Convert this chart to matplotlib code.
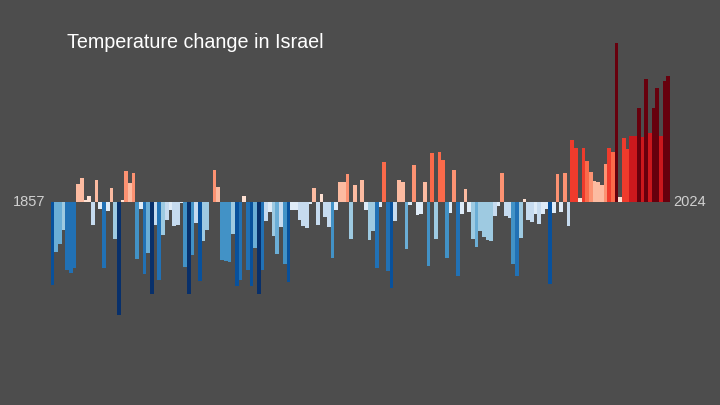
import numpy as np
import matplotlib.pyplot as plt
from matplotlib.colors import ListedColormap, Normalize

# Annual temperature anomaly for Israel, 1857-2024 (degC)
years = np.arange(1857, 2025)
anomaly = [
    -0.83, -0.50, -0.42, -0.28, -0.68, -0.71, -0.66, 0.18, 0.24, 0.02,
    0.06, -0.23, 0.22, -0.07, -0.66, -0.09, 0.14, -0.37, -1.13, 0.02,
    0.31, 0.19, 0.29, -0.57, -0.07, -0.72, -0.51, -0.92, -0.23, -0.78,
    -0.33, -0.18, -0.08, -0.24, -0.23, -0.01, -0.65, -0.92, -0.53, -0.21,
    -0.79, -0.39, -0.28, 0.00, 0.32, 0.15, -0.58, -0.59, -0.60, -0.32,
    -0.84, -0.78, 0.06, -0.68, -0.84, -0.46, -0.92, -0.68, -0.19, -0.10,
    -0.34, -0.52, -0.25, -0.62, -0.80, -0.08, -0.08, -0.18, -0.24, -0.26,
    -0.02, 0.14, -0.23, 0.08, -0.15, -0.25, -0.56, -0.08, 0.20, 0.20,
    0.28, -0.37, 0.17, 0.00, 0.22, -0.08, -0.38, -0.29, -0.66, -0.05,
    0.40, -0.69, -0.86, -0.19, 0.22, 0.20, -0.47, -0.03, 0.37, -0.13,
    -0.12, 0.20, -0.64, 0.49, -0.37, 0.50, 0.42, -0.56, -0.11, 0.32,
    -0.74, -0.12, 0.13, -0.10, -0.37, -0.45, -0.29, -0.35, -0.38, -0.39,
    -0.14, -0.04, 0.29, -0.14, -0.16, -0.62, -0.74, -0.36, 0.03, -0.18,
    -0.20, -0.12, -0.22, -0.12, -0.07, -0.82, -0.11, 0.28, -0.10, 0.29,
    -0.24, 0.62, 0.54, 0.04, 0.54, 0.41, 0.30, 0.21, 0.20, 0.17,
    0.38, 0.54, 0.50, 1.59, 0.05, 0.64, 0.53, 0.66, 0.66, 0.94,
    0.65, 1.23, 0.69, 0.94, 1.14, 0.66, 1.21, 1.26,
]

title = "Temperature change in Israel"

stripe_colors = ['#08306b', '#08519c', '#2171b5', '#4292c6',
                 '#6baed6', '#9ecae1', '#c6dbef', '#deebf7',
                 '#fee0d2', '#fcbba1', '#fc9272', '#fb6a4a',
                 '#ef3b2c', '#cb181d', '#a50f15', '#67000d']
cmap = ListedColormap(stripe_colors)
norm = Normalize(vmin=-1.04, vmax=1.04)

bg = '#4d4d4d'
fig = plt.figure(figsize=(7.2, 4.05), dpi=100, facecolor=bg)
ax = fig.add_axes([50.5 / 720, 0, 619.5 / 720, 1])
ax.set_facecolor(bg)

vals = np.array(anomaly)
ax.bar(years, vals, width=1.0, color=cmap(norm(vals)), linewidth=0)

ax.set_xlim(years[0] - 0.5, years[-1] + 0.5)
ax.set_ylim(-2.03, 2.02)
ax.axis('off')

fig.text(67 / 720, 1 - 43 / 405, title, color='white', fontsize=14.2,
         family='Liberation Sans', va='center', ha='left')
fig.text(29 / 720, 1 - 202 / 405, str(years[0]), color='#d0d0d0', fontsize=10.5,
         family='Liberation Sans', va='center', ha='center')
fig.text(690 / 720, 1 - 202 / 405, str(years[-1]), color='#d0d0d0', fontsize=10.5,
         family='Liberation Sans', va='center', ha='center')

fig.savefig('out.png', dpi=100, facecolor=bg)
